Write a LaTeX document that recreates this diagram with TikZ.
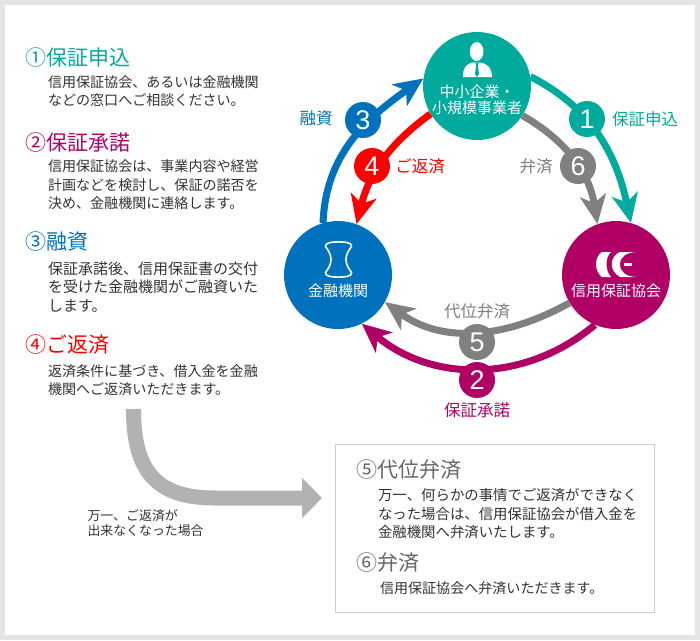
\documentclass[tikz,border=0pt]{standalone}
\usepackage{fontspec}
\setmainfont{Noto Sans CJK JP}
\newfontfamily\digitfont{Liberation Sans}
\usetikzlibrary{arrows.meta}
\definecolor{cteal}{HTML}{00AB9D}
\definecolor{cblue}{HTML}{0071BC}
\definecolor{cmag}{HTML}{B00066}
\definecolor{cred}{HTML}{FF0000}
\definecolor{cgray}{HTML}{808080}
\definecolor{cbody}{HTML}{333333}
\begin{document}
\begin{tikzpicture}[x=1pt,y=1pt,
    org/.style={circle, minimum size=108pt, inner sep=0pt, fill=#1},
    orglab/.style={text=white, align=center, font=\fontsize{15}{16}\selectfont},
    badge/.style={circle, minimum size=36pt, inner sep=0pt, fill=#1, text=white, font=\digitfont\fontsize{27}{27}\selectfont},
    a/.style={draw=#1, line width=7pt, -{Stealth[length=29pt,width=26pt,inset=8pt]}},
    al/.style={text=#1, font=\fontsize{16.5}{18}\selectfont},
    hd/.style={anchor=west, text=#1, font=\fontsize{21}{23}\selectfont},
    txt/.style={anchor=west, align=left, text=cbody, font=\fontsize{14.05}{18.5}\selectfont}
]
\fill[black!10] (0,0) rectangle (700,-640);
\fill[white] (5,-5) rectangle (695,-635);
% organisations
\node[org=cteal] (sme) at (477,-86) {};
\node[org=cblue] (bank) at (338,-275) {};
\node[org=cmag] (assoc) at (616,-275) {};
\node[orglab] (smelab) at (477,-100) {中小企業・\\小規模事業者};
\node[orglab] (banklab) at (338,-291) {金融機関};
\node[orglab] (assoclab) at (616,-291) {信用保証協会};
% person icon
\fill[white] (476.7,-51.5) ellipse (6.8pt and 9.5pt);
\fill[white] (463,-77) .. controls (463,-68) and (465,-65.5) .. (472,-62.5) -- (481.5,-62.5) .. controls (489,-65.5) and (491.5,-68) .. (492,-77) -- cycle;
\fill[cteal] (475.5,-63) -- (478.5,-63) -- (478,-66) -- (479,-74) -- (477,-77) -- (475,-74) -- (476,-66) -- cycle;
% bank icon
\draw[white, line width=1.6pt] (330,-242.5) .. controls (335,-241.7) and (342,-241.7) .. (347,-242.5)
  .. controls (350,-243) and (352,-244.5) .. (351.5,-246.5) .. controls (349,-250) and (346,-254) .. (346,-259.5)
  .. controls (346,-265) and (349,-269) .. (351.5,-272.5) .. controls (352,-274.5) and (350,-276) .. (347,-276.5)
  .. controls (342,-277.3) and (335,-277.3) .. (330,-276.5) .. controls (327,-276) and (325,-274.5) .. (325.5,-272.5)
  .. controls (328,-269) and (331,-265) .. (331,-259.5) .. controls (331,-254) and (328,-250) .. (325.5,-246.5)
  .. controls (325,-244.5) and (327,-243) .. (330,-242.5) -- cycle;
% association icon
\fill[white] (602,-252) -- (611,-252) .. controls (605,-257) and (605,-271) .. (611,-277) -- (602,-277) .. controls (594,-271) and (594,-257) .. (602,-252) -- cycle;
\fill[white] (620,-252) -- (636,-252) .. controls (626,-252.5) and (620,-257) .. (620,-264.5) .. controls (620,-272) and (626,-276.5) .. (636,-277) -- (620,-277) .. controls (609,-271) and (609,-257) .. (620,-252) -- cycle;
\fill[white] (623.5,-263) rectangle (632,-265.5);
% connectors
\draw[a=cteal] (sme.10) to[out=-27,in=102] (assoc.74);
\draw[a=cblue] (bank.106) to[out=88,in=215] (sme.172);
\draw[a=cred] (sme.211) to[out=216,in=76] (bank.70);
\draw[a=cgray] (sme.-33) to[out=-30,in=99] (assoc.110);
\draw[a=cgray] (assoc.211) to[out=209,in=-36] (bank.-30);
\draw[a=cmag] (assoc.247) to[out=220,in=-40] (bank.296);
% badges
\node[badge=cteal] (b1) at (587,-119) {1};
\node[badge=cmag] (b2) at (477,-380) {2};
\node[badge=cblue] (b3) at (363,-120) {3};
\node[badge=cred] (b4) at (372,-166) {4};
\node[badge=cgray] (b5) at (477,-342) {5};
\node[badge=cgray] (b6) at (578,-166) {6};
\node[al=cteal] (l1) at (645,-119) {保証申込};
\node[al=cmag] (l2) at (477,-410) {保証承諾};
\node[al=cblue] (l3) at (316,-118) {融資};
\node[al=cred] (l4) at (420,-166) {ご返済};
\node[al=cgray] (l5) at (477,-311) {代位弁済};
\node[al=cgray] (l6) at (536,-166) {弁済};
% left column
\node[hd=cteal] (h1) at (21.5,-58) {①保証申込};
\node[txt] (t1) at (44.5,-91) {信用保証協会、あるいは金融機関\\などの窓口へご相談ください。};
\node[hd=cmag] (h2) at (21.5,-143) {②保証承諾};
\node[txt] (t2) at (44.5,-185) {信用保証協会は、事業内容や経営\\計画などを検討し、保証の諾否を\\決め、金融機関に連絡します。};
\node[hd=cblue] (h3) at (21.5,-242) {③融資};
\node[txt, font=\fontsize{15}{18.5}\selectfont] (t3) at (44.5,-287) {保証承諾後、信用保証書の交付\\を受けた金融機関がご融資いた\\します。};
\node[hd=cred] (h4) at (21.5,-345) {④ご返済};
\node[txt] (t4) at (44.5,-380) {返済条件に基づき、借入金を金融\\機関へご返済いただきます。};
% big arrow
\coordinate (turnstart) at (133.5,-409);
\coordinate (turnend) at (322,-498);
\draw[draw=black!30, line width=15pt, -{Triangle[length=20pt,width=39pt]}] (turnstart) .. controls (133.5,-470) and (155,-498) .. (215,-498) -- (turnend);
\node[txt, font=\fontsize{12.9}{15}\selectfont] (cap) at (84,-523) {万一、ご返済が\\出来なくなった場合};
% lower box
\node[draw=black!20, line width=1pt, minimum width=319pt, minimum height=168pt, inner sep=0pt] (box) at (495,-528.5) {};
\node[hd=cgray!80!black] (h5) at (352.5,-470) {⑤代位弁済};
\node[txt, font=\fontsize{14.4}{18.5}\selectfont] (t5) at (374.5,-514) {万一、何らかの事情でご返済ができなく\\なった場合は、信用保証協会が借入金を\\金融機関へ弁済いたします。};
\node[hd=cgray!80!black] (h6) at (352.5,-563) {⑥弁済};
\node[txt] (t6) at (376.5,-588) {信用保証協会へ弁済いただきます。};
\useasboundingbox (0,0) rectangle (700,-640);
\end{tikzpicture}
\end{document}
